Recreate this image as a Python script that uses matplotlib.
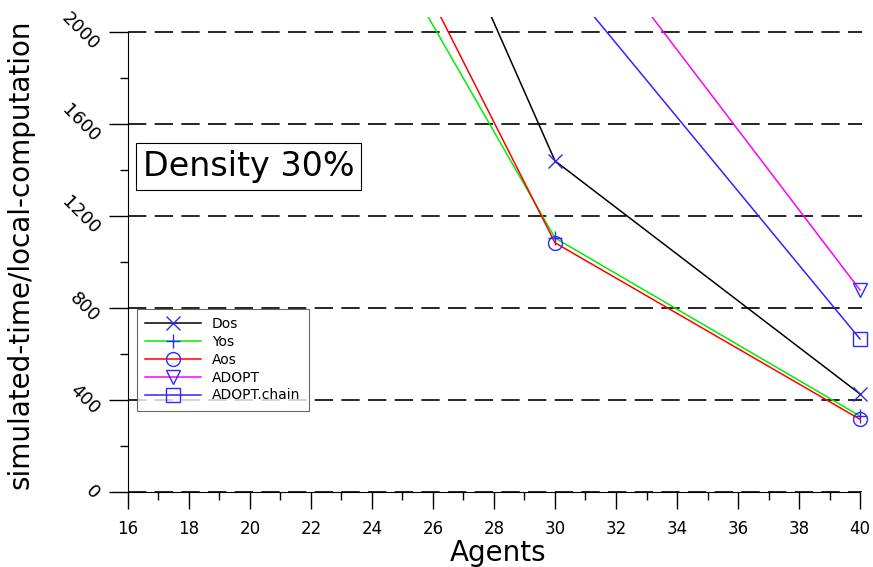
import numpy as np
import matplotlib
matplotlib.use('Agg')
import matplotlib.pyplot as plt

# agents and values (points above 2000 are clipped out, as in the original)
agents = [20, 30, 40]
dos = [4440, 1439, 426]
yos = [3414, 1104, 330]
aos = [3703, 1083, 316]
adopt = [4800, 2618, 878]
adopt_chain = [4000, 2272, 665]

series = [
    ('Dos', dos, 'black', 'x'),
    ('Yos', yos, '#00ee00', '+'),
    ('Aos', aos, 'red', 'o'),
    ('ADOPT', adopt, '#ff00ff', 'v'),
    ('ADOPT.chain', adopt_chain, '#3a1fff', 's'),
]
marker_col = '#2a2aff'

fig = plt.figure(figsize=(8.73, 5.67), dpi=100)
ax = fig.add_axes([0.1466, 0.1323, 0.849, 0.838])

for name, vals, col, mk in series:
    ax.plot(agents, vals, color=col, lw=1.1, marker=mk, markersize=10,
            markeredgecolor=marker_col, markerfacecolor='none',
            markeredgewidth=1.0, label=name)

ax.set_xlim(16, 40.3)
ax.set_ylim(0, 2065)

for s in ['top', 'right']:
    ax.spines[s].set_visible(False)
ax.spines['left'].set_bounds(0, 2000)
ax.spines['bottom'].set_bounds(16, 40)

ax.set_xticks(np.arange(16, 41, 2))
ax.set_xticks(np.arange(17, 40, 2), minor=True)
ax.set_yticks(np.arange(0, 2001, 400))
ax.set_yticks(np.arange(200, 2000, 400), minor=True)

ax.tick_params(axis='x', which='major', direction='out', length=12, width=1, pad=8, labelsize=12)
ax.tick_params(axis='x', which='minor', direction='out', length=6, width=1)
ax.tick_params(axis='y', which='major', direction='out', length=14, width=1, pad=4, labelsize=13)
ax.tick_params(axis='y', which='minor', direction='out', length=6, width=1)
for lab in ax.get_yticklabels():
    lab.set_rotation(-45)
    lab.set_ha('right')
    lab.set_va('center')

# horizontal dashed grid lines, ending at the last agent value
ax.hlines(np.arange(0, 2001, 400), 16, 40.05, colors='black',
          linestyles=(0, (11, 5)), lw=1.2, zorder=0.5)

ax.set_xlabel('Agents', fontsize=20, labelpad=1)
ax.set_ylabel('simulated-time/local-computation', fontsize=20, labelpad=17)

ax.text(0.02, 0.685, 'Density 30%', fontsize=24, ha='left', va='center',
        transform=ax.transAxes,
        bbox=dict(facecolor='white', edgecolor='black', lw=0.8, boxstyle='square,pad=0.2'))

leg = ax.legend(loc='lower left', bbox_to_anchor=(0.012, 0.171), fontsize=10,
                frameon=True, fancybox=False, edgecolor='#444444', handlelength=4.0,
                labelspacing=0.28, borderpad=0.6, handletextpad=0.8, borderaxespad=0)
leg.get_frame().set_linewidth(0.8)

plt.savefig('out.png', dpi=100)
